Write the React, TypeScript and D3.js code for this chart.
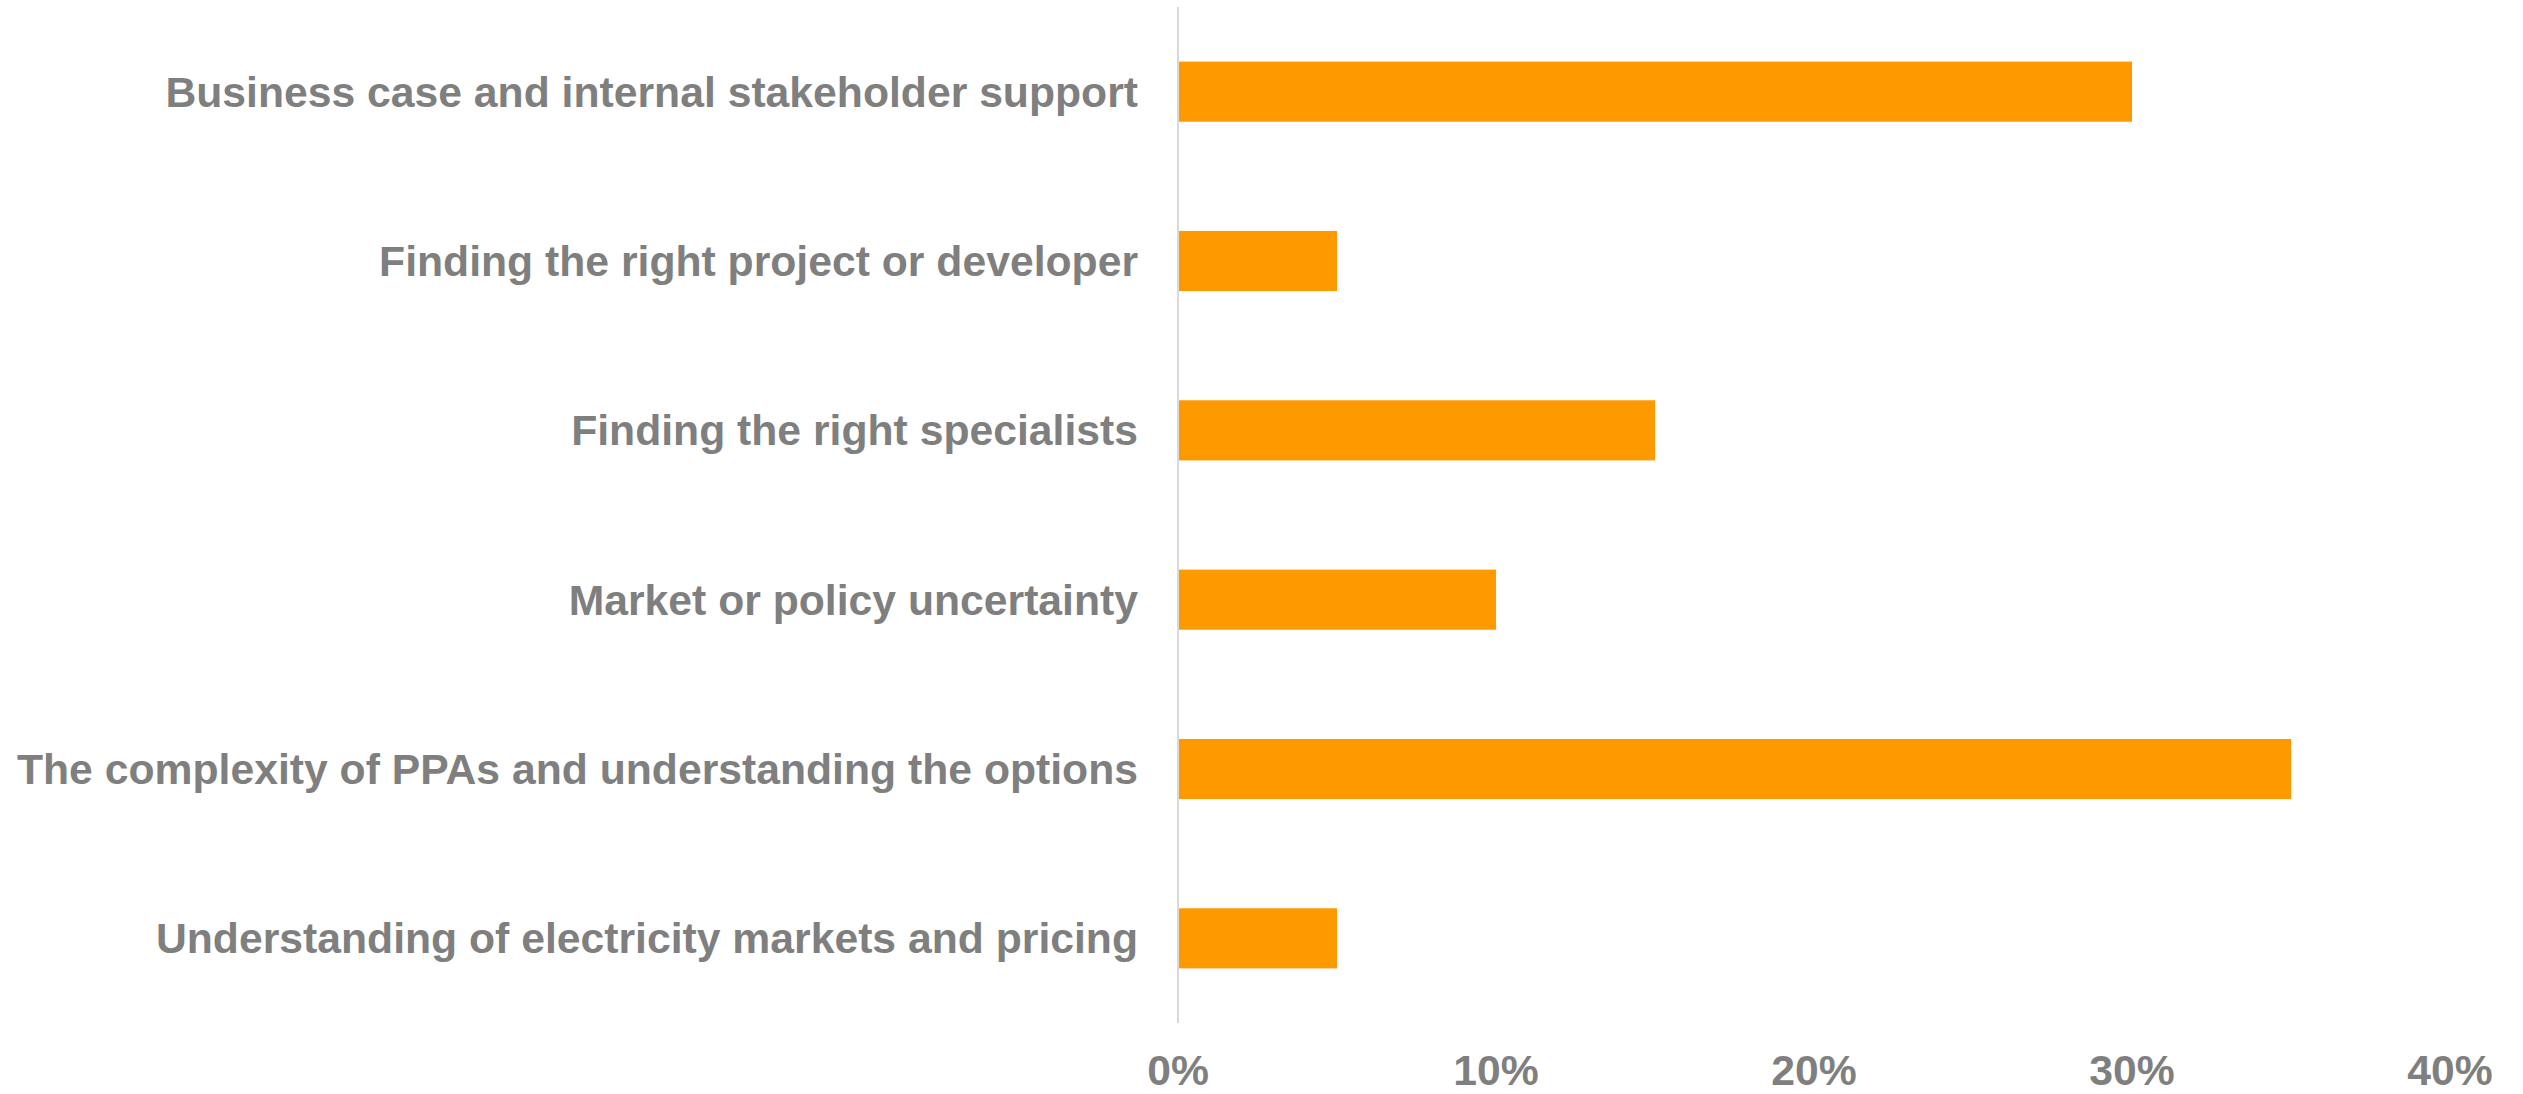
import React, { useRef, useEffect } from 'react';
import * as d3 from 'd3';

const categories = [
  'Business case and internal stakeholder support',
  'Finding the right project or developer',
  'Finding the right specialists',
  'Market or policy uncertainty',
  'The complexity of PPAs and understanding the options',
  'Understanding of electricity markets and pricing',
];
const shares = [0.30, 0.05, 0.15, 0.10, 0.35, 0.05];
const tickValues = [0, 0.1, 0.2, 0.3, 0.4];

function BarChart({ width = 2523, height = 1094 }) {
  const svgRef = useRef(null);

  useEffect(() => {
    const svg = d3.select(svgRef.current);
    svg.selectAll('*').remove();

    const left = 1178, right = 2450, top = 7, bottom = 1023;
    const font = 'Arial, "Liberation Sans", sans-serif';
    const grey = '#7f7f7f';

    const x = d3.scaleLinear().domain([0, 0.4]).range([left, right]);
    const y = d3.scaleBand().domain(categories).range([top, bottom]).paddingInner(0.645).paddingOuter(0.3225);

    svg.attr('width', width).attr('height', height).style('background', '#fff');

    // bars
    svg.selectAll('rect.bar')
      .data(shares)
      .enter()
      .append('rect')
      .attr('class', 'bar')
      .attr('x', x(0))
      .attr('y', (d, i) => y(categories[i]))
      .attr('width', d => x(d) - x(0))
      .attr('height', y.bandwidth())
      .attr('fill', '#ff9900');

    // vertical axis line
    svg.append('line')
      .attr('x1', x(0)).attr('x2', x(0))
      .attr('y1', top).attr('y2', bottom)
      .attr('stroke', '#d9d9d9').attr('stroke-width', 2);

    // category labels
    svg.selectAll('text.cat')
      .data(categories)
      .enter()
      .append('text')
      .attr('class', 'cat')
      .attr('x', x(0) - 40)
      .attr('y', d => y(d) + y.bandwidth() / 2)
      .attr('dy', '0.35em')
      .attr('text-anchor', 'end')
      .attr('font-family', font)
      .attr('font-weight', 'bold')
      .attr('font-size', 42.7)
      .attr('fill', grey)
      .text(d => d);

    // x tick labels
    const fmt = d3.format('.0%');
    svg.selectAll('text.tick')
      .data(tickValues)
      .enter()
      .append('text')
      .attr('class', 'tick')
      .attr('x', d => x(d))
      .attr('y', 1085)
      .attr('text-anchor', 'middle')
      .attr('font-family', font)
      .attr('font-weight', 'bold')
      .attr('font-size', 42.7)
      .attr('fill', grey)
      .text(d => fmt(d));
  }, [width, height]);

  return <svg ref={svgRef} style={{ display: 'block', position: 'absolute', left: 0, top: 0 }} />;
}

export default function App() {
  return <BarChart />;
}
